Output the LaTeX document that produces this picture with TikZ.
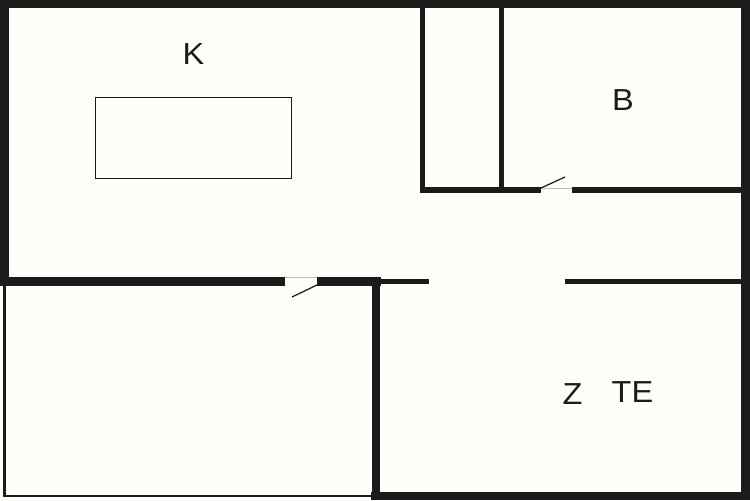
\documentclass[tikz,border=0pt]{standalone}
\usepackage{fontspec}
\setmainfont[FakeStretch=1.07]{Liberation Sans}
\definecolor{wallblack}{HTML}{1C1A1A}
\definecolor{paper}{HTML}{FFFFFA}
\tikzset{
    %Define wall and label looks
    thickwall/.style={
      draw=wallblack,
      line width=5pt,
      line cap=butt},
    thinwall/.style={
      draw=wallblack,
      line width=3.1pt,
      line cap=butt},
    hairwall/.style={
      draw=wallblack,
      line width=1.3pt},
    doorleaf/.style={
      draw=wallblack,
      line width=0.7pt},
    doorsill/.style={
      draw=gray!50,
      line width=0.4pt},
    roomlabel/.style={
      font=\fontsize{17.3}{20}\selectfont,
      text=wallblack,
      inner sep=0pt},
}
\begin{document}
\begin{tikzpicture}[x=0.02cm,y=-0.02cm]
    \useasboundingbox (0,0) rectangle (750,500);
    \fill[paper] (0,0) rectangle (750,500);
    % thin outline of the lower left room
    \draw[hairwall] (4.5,282) -- (4.5,496) -- (372,496);
    % outer walls
    \draw[thickwall] (4.5,286) -- (4.5,4) -- (745.5,4) -- (745.5,496) -- (371,496);
    % inner walls
    \draw[thickwall] (0,281.5) -- (285,281.5);
    \draw[thickwall] (317,281.5) -- (381,281.5);
    \draw[thickwall] (376,277) -- (376,500);
    \draw[thinwall] (380,281.5) -- (429,281.5);
    \draw[thinwall] (565,281.5) -- (741,281.5);
    \draw[thinwall] (422.5,8) -- (422.5,191.5);
    \draw[thinwall] (501.5,8) -- (501.5,190);
    \draw[thinwall] (420,190) -- (541,190);
    \draw[thinwall] (572,190) -- (741,190);
    % doors
    \draw[doorsill] (541,188.5) -- (572,188.5);
    \draw[doorleaf] (541,188) -- (565,177);
    \draw[doorsill] (285,277.5) -- (317,277.5);
    \draw[doorleaf] (317,285) -- (292,297);
    % table
    \node (table) [draw=wallblack, line width=0.5pt, minimum width=1.96*2cm,
      minimum height=0.81*2cm, inner sep=0pt] at (193,137.5) {};
    % labels
    \node (k) [roomlabel] at (193.5,54.5) {K};
    \node (b) [roomlabel] at (623,100) {B};
    \node (z) [roomlabel] at (572.5,394) {Z};
    \node (te) [roomlabel] at (632.5,392.5) {TE};
\end{tikzpicture}
\end{document}
